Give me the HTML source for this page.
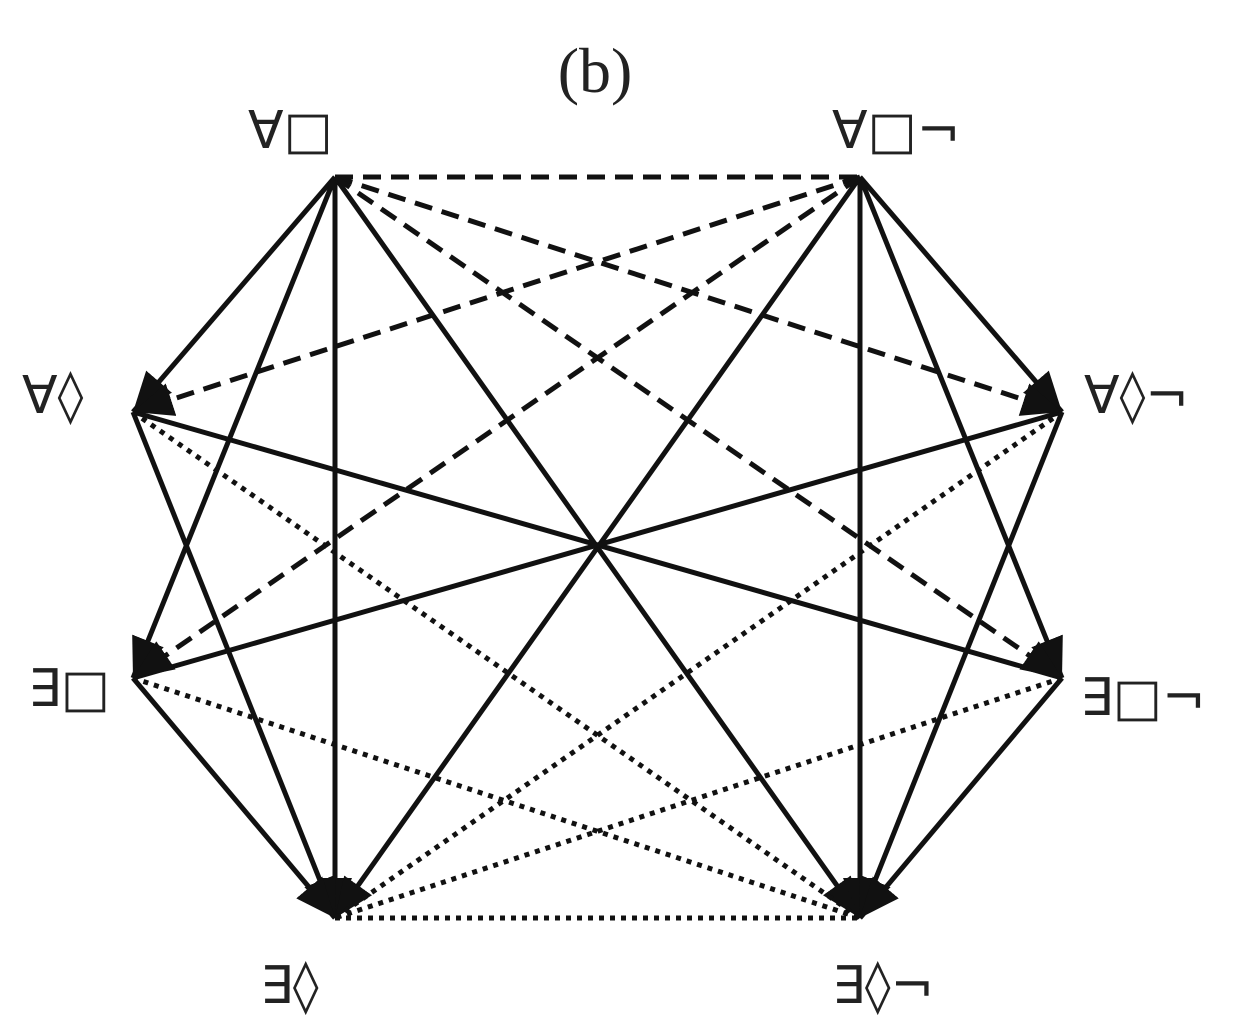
<!DOCTYPE html>
<html><head><style>
html,body{margin:0;padding:0;background:#fff;}
svg{display:block;}
.l{font-family:"DejaVu Sans","Liberation Sans",sans-serif;font-size:52px;fill:#222;}
</style></head><body>
<svg width="1242" height="1032" viewBox="0 0 1242 1032" xmlns="http://www.w3.org/2000/svg">
<defs>
<marker id="ar" markerWidth="10" markerHeight="10" refX="9" refY="5" orient="auto" markerUnits="userSpaceOnUse" viewBox="0 0 10 10" style="overflow:visible">
</marker>
<marker id="a" viewBox="0 0 40 34" refX="40" refY="17" markerWidth="40" markerHeight="34" markerUnits="userSpaceOnUse" orient="auto"><path d="M0,0 L40,17 L0,34 Z" fill="#111"/></marker>
</defs>
<text x="595" y="92" text-anchor="middle" style="font-family:'Liberation Serif',serif;font-size:64px;fill:#222">(b)</text>
<text class="l" x="248" y="148">∀□</text>
<text class="l" x="832" y="148">∀□¬</text>
<text class="l" x="22" y="413">∀◊</text>
<text class="l" x="1084" y="413">∀◊¬</text>
<text class="l" x="28" y="706">∃□</text>
<text class="l" x="1080" y="715">∃□¬</text>
<text class="l" x="260" y="1003">∃◊</text>
<text class="l" x="832" y="1003">∃◊¬</text>
<g stroke="#111" stroke-width="5" fill="none">
<!-- solid -->
<line x1="335" y1="177" x2="133" y2="412" marker-end="url(#a)"/>
<line x1="335" y1="177" x2="133" y2="678" marker-end="url(#a)"/>
<line x1="335" y1="177" x2="335" y2="918" marker-end="url(#a)"/>
<line x1="335" y1="177" x2="860" y2="918" marker-end="url(#a)"/>
<line x1="860" y1="177" x2="1062" y2="412" marker-end="url(#a)"/>
<line x1="860" y1="177" x2="1062" y2="678" marker-end="url(#a)"/>
<line x1="860" y1="177" x2="860" y2="918" marker-end="url(#a)"/>
<line x1="860" y1="177" x2="335" y2="918" marker-end="url(#a)"/>
<line x1="133" y1="412" x2="335" y2="918" marker-end="url(#a)"/>
<line x1="133" y1="678" x2="335" y2="918" marker-end="url(#a)"/>
<line x1="1062" y1="412" x2="860" y2="918" marker-end="url(#a)"/>
<line x1="1062" y1="678" x2="860" y2="918" marker-end="url(#a)"/>
<line x1="133" y1="412" x2="1062" y2="678"/>
<line x1="1062" y1="412" x2="133" y2="678"/>
</g>
<g stroke="#111" stroke-width="5" fill="none" stroke-dasharray="18,10">
<line x1="335" y1="177" x2="860" y2="177"/>
<line x1="335" y1="177" x2="1062" y2="412" marker-end="url(#a)"/>
<line x1="335" y1="177" x2="1062" y2="678" marker-end="url(#a)"/>
<line x1="860" y1="177" x2="133" y2="412" marker-end="url(#a)"/>
<line x1="860" y1="177" x2="133" y2="678" marker-end="url(#a)"/>
</g>
<g stroke="#111" stroke-width="5" fill="none" stroke-dasharray="5,6">
<line x1="133" y1="412" x2="860" y2="918"/>
<line x1="133" y1="678" x2="860" y2="918"/>
<line x1="1062" y1="412" x2="335" y2="918"/>
<line x1="1062" y1="678" x2="335" y2="918"/>
<line x1="335" y1="918" x2="860" y2="918"/>
</g>
</svg>
</body></html>
